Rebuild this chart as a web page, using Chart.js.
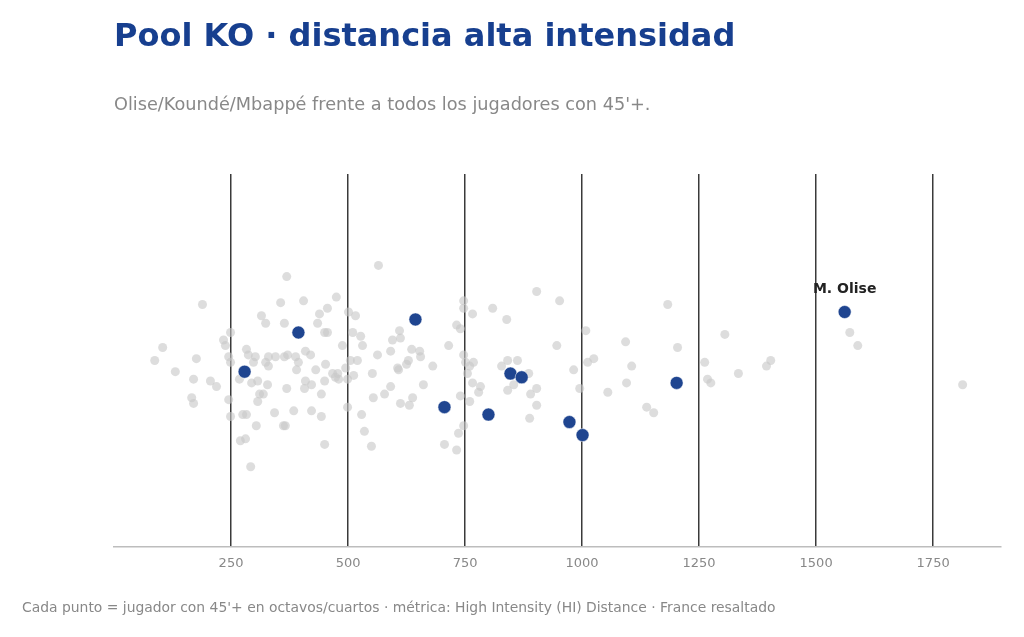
<!DOCTYPE html>
<html>
<head>
<meta charset="utf-8">
<script src="https://cdn.jsdelivr.net/npm/chart.js@4.4.1/dist/chart.umd.min.js"></script>
<style>
    html, body { margin: 0; padding: 0; background: #fff; }
    body { width: 1024px; height: 637px; position: relative; overflow: hidden; font-family: 'DejaVu Sans', sans-serif; }
    #title { position: absolute; left: 114px; top: 19px; font-size: 32px; line-height: 32px; font-weight: bold; color: #173f8f; white-space: nowrap; }
    #subtitle { position: absolute; left: 114px; top: 95px; font-size: 17.7px; line-height: 18px; color: #888; white-space: nowrap; }
    #footer { position: absolute; left: 22px; top: 600px; font-size: 13.9px; line-height: 14px; color: #888; white-space: nowrap; }
    #wrap { position: absolute; left: 0; top: 0; width: 1024px; height: 637px; }
</style>
</head>
<body>
<div id="wrap"><canvas id="poolChart"></canvas></div>
<div id="title">Pool KO · distancia alta intensidad</div>
<div id="subtitle">Olise/Koundé/Mbappé frente a todos los jugadores con 45'+.</div>
<div id="footer">Cada punto = jugador con 45'+ en octavos/cuartos · métrica: High Intensity (HI) Distance · France resaltado</div>
<script>
// HI distance (m) for every player in the pool, plus a vertical jitter
const poolDistance = [
    369, 189, 356, 315, 324, 364, 249, 234, 238, 104, 87, 176, 283, 287, 302, 245, 249, 330, 345, 364,
    324, 330, 298, 131, 170, 206, 219, 268, 294, 307, 328, 369, 166, 170, 245, 311, 319, 307, 343, 249,
    275, 283, 304, 362, 270, 281, 292, 565, 405, 475, 456, 439, 435, 501, 516, 456, 450, 510, 527, 488,
    531, 610, 595, 612, 409, 420, 388, 371, 563, 591, 636, 653, 655, 681, 394, 390, 452, 431, 505, 520,
    495, 629, 625, 606, 608, 552, 512, 467, 478, 473, 480, 499, 450, 409, 422, 407, 443, 591, 661, 578,
    554, 638, 612, 631, 499, 384, 422, 443, 366, 529, 535, 450, 550, 903, 952, 747, 747, 766, 809, 839,
    732, 740, 715, 946, 747, 751, 768, 760, 755, 828, 841, 862, 886, 982, 766, 783, 779, 854, 841, 903,
    890, 740, 760, 903, 888, 747, 736, 706, 732, 995, 1183, 1008, 1093, 1204, 1012, 1025, 1106, 1262, 1095, 1055,
    1268, 1275, 1138, 1153, 1305, 1403, 1394, 1334, 1572, 1589, 1813
];
const poolJitter = [
    0.45, 0.30, 0.31, 0.24, 0.20, 0.20, 0.15, 0.11, 0.08, 0.07, 0.00, 0.01, 0.06, 0.03, 0.02, 0.02, -0.01, 0.02, 0.02, 0.02,
    -0.01, -0.03, -0.01, -0.06, -0.10, -0.11, -0.14, -0.10, -0.12, -0.11, -0.13, -0.15, -0.20, -0.23, -0.21, -0.18, -0.18, -0.22, -0.28, -0.30,
    -0.29, -0.29, -0.35, -0.35, -0.43, -0.42, -0.57, 0.51, 0.32, 0.34, 0.28, 0.25, 0.20, 0.26, 0.24, 0.15, 0.15, 0.15, 0.13, 0.08,
    0.08, 0.16, 0.11, 0.12, 0.05, 0.03, 0.02, 0.03, 0.03, 0.05, 0.06, 0.05, 0.02, -0.03, -0.01, -0.05, -0.02, -0.05, 0.00, 0.00,
    -0.04, 0.00, -0.02, -0.04, -0.05, -0.07, -0.08, -0.07, -0.07, -0.09, -0.10, -0.10, -0.11, -0.11, -0.13, -0.15, -0.18, -0.14, -0.13, -0.18,
    -0.20, -0.20, -0.23, -0.24, -0.25, -0.27, -0.27, -0.30, -0.35, -0.29, -0.38, -0.45, -0.46, 0.37, 0.32, 0.32, 0.28, 0.25, 0.28, 0.22,
    0.19, 0.17, 0.08, 0.08, 0.03, -0.01, -0.01, -0.03, -0.07, -0.03, 0.00, 0.00, -0.07, -0.05, -0.12, -0.14, -0.17, -0.13, -0.16, -0.15,
    -0.18, -0.19, -0.22, -0.24, -0.31, -0.35, -0.39, -0.45, -0.48, -0.15, 0.30, 0.16, 0.10, 0.07, -0.01, 0.01, -0.03, -0.01, -0.12, -0.17,
    -0.10, -0.12, -0.25, -0.28, 0.14, 0.00, -0.03, -0.07, 0.15, 0.08, -0.13
];

// France players (highlighted)
const franceDistance = [279, 394, 644, 706, 800, 847, 871, 973, 1001, 1202, 1561];
const franceJitter = [-0.06, 0.15, 0.22, -0.25, -0.29, -0.07, -0.09, -0.33, -0.40, -0.12, 0.26];
const franceLabels = ['', '', '', '', '', '', '', '', '', '', 'M. Olise'];

const xTicks = [250, 500, 750, 1000, 1250, 1500, 1750];

const FONT = "'DejaVu Sans', sans-serif";

// draws the name above labelled France points
const labelPlugin = {
    id: 'pointLabels',
    afterDatasetsDraw(chart) {
        const ctx = chart.ctx;
        const meta = chart.getDatasetMeta(0);
        ctx.save();
        ctx.font = 'bold 14px ' + FONT;
        ctx.fillStyle = '#222';
        ctx.textAlign = 'center';
        ctx.textBaseline = 'middle';
        franceLabels.forEach(function(name, i) {
            if (!name) return;
            const pt = meta.data[i];
            ctx.fillText(name, pt.x, pt.y - 23);
        });
        ctx.restore();
    }
};

document.addEventListener('DOMContentLoaded', function() {
    const ctx = document.getElementById('poolChart');
    new Chart(ctx, {
        type: 'scatter',
        data: {
            datasets: [{
                label: 'France',
                data: franceDistance.map((v, i) => ({ x: v, y: franceJitter[i] })),
                backgroundColor: '#1f4590',
                borderColor: '#ffffff',
                borderWidth: 0.5,
                pointRadius: 6.5,
                order: 0
            }, {
                label: 'Pool',
                data: poolDistance.map((v, i) => ({ x: v, y: poolJitter[i] })),
                backgroundColor: 'rgba(200, 200, 200, 0.62)',
                borderWidth: 0,
                pointRadius: 4.5,
                order: 1
            }]
        },
        options: {
            responsive: true,
            maintainAspectRatio: false,
            animation: false,
            layout: {
                padding: { left: 114, right: 23, top: 174, bottom: 50 }
            },
            plugins: {
                legend: { display: false },
                tooltip: { enabled: false }
            },
            scales: {
                x: {
                    type: 'linear',
                    min: 0,
                    max: 1895,
                    afterBuildTicks: function(scale) {
                        scale.ticks = xTicks.map(v => ({ value: v }));
                    },
                    afterFit: function(scale) {
                        scale.height = 40;
                    },
                    grid: {
                        color: '#3a3a3a',
                        lineWidth: 1.5,
                        drawTicks: false
                    },
                    border: {
                        display: true,
                        color: '#bdbdbd',
                        width: 1.5
                    },
                    ticks: {
                        color: '#888',
                        padding: 9,
                        font: { family: FONT, size: 13 },
                        callback: function(value) {
                            return String(value);
                        }
                    }
                },
                y: {
                    display: false,
                    min: -1,
                    max: 1
                }
            }
        },
        plugins: [labelPlugin]
    });
});
</script>
</body>
</html>
